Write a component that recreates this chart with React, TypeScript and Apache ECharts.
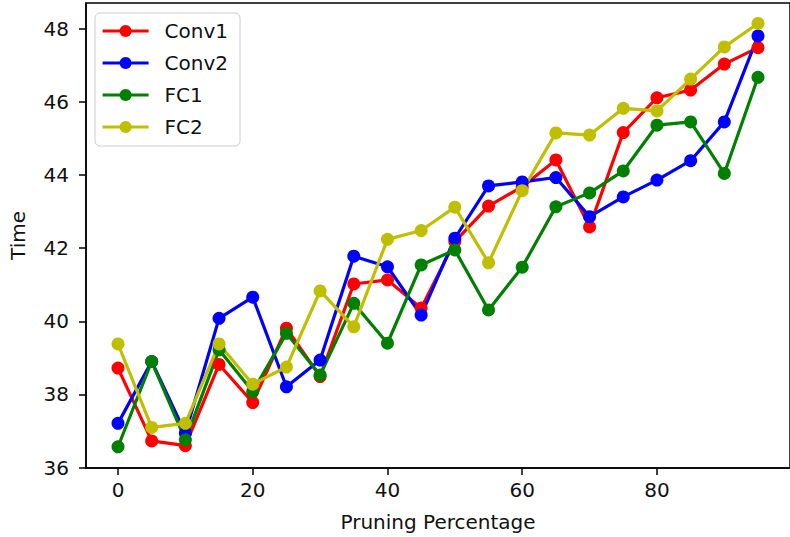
import React, { useEffect, useRef } from "react";
import * as echarts from "echarts";

const pruning = [0, 5, 10, 15, 20, 25, 30, 35, 40, 45, 50, 55, 60, 65, 70, 75, 80, 85, 90, 95];
const conv1 = [38.72, 36.73, 36.6, 38.82, 37.78, 39.81, 38.49, 41.02, 41.13, 40.36, 42.18, 43.15, 43.68, 44.41, 42.58, 45.16, 46.11, 46.32, 47.03, 47.48];
const conv2 = [37.21, 38.9, 36.94, 40.08, 40.66, 38.21, 38.94, 41.78, 41.49, 40.17, 42.27, 43.7, 43.81, 43.93, 42.86, 43.4, 43.86, 44.39, 45.45, 47.8];
const fc1 = [36.57, 38.9, 36.76, 39.22, 38.08, 39.67, 38.53, 40.49, 39.4, 41.54, 41.95, 40.31, 41.48, 43.13, 43.51, 44.11, 45.36, 45.45, 44.04, 46.67];
const fc2 = [39.38, 37.1, 37.21, 39.38, 38.28, 38.75, 40.83, 39.85, 42.24, 42.48, 43.12, 41.6, 43.57, 45.15, 45.09, 45.82, 45.75, 46.62, 47.5, 48.14];
const xTicks = [0, 20, 40, 60, 80];
const yTicks = [36, 38, 40, 42, 44, 46, 48];

const seriesDefs = [
  { name: "Conv1", values: conv1, color: "#ff0000" },
  { name: "Conv2", values: conv2, color: "#0000ff" },
  { name: "FC1", values: fc1, color: "#008000" },
  { name: "FC2", values: fc2, color: "#bfbf00" },
];

const FONT = "DejaVu Sans";

export default function App() {
  const ref = useRef<HTMLDivElement>(null);
  useEffect(() => {
    if (!ref.current) return;
    const chart = echarts.init(ref.current, undefined, { renderer: "svg" });
    chart.setOption({
      animation: false,
      backgroundColor: "#ffffff",
      textStyle: { fontFamily: FONT },
      grid: {
        left: 84,
        top: 3,
        bottom: 69,
        right: -8.4,
        show: true,
        borderColor: "#000",
        borderWidth: 1.5,
        backgroundColor: "transparent",
      },
      legend: {
        orient: "vertical",
        left: 95,
        top: 13,
        padding: [8, 12, 9, 6],
        itemWidth: 46,
        itemHeight: 15,
        itemGap: 12,
        backgroundColor: "rgba(255,255,255,0.8)",
        borderColor: "#cccccc",
        borderWidth: 1,
        borderRadius: 5,
        lineStyle: { width: 3.2 },
        textStyle: {
          fontFamily: FONT,
          fontSize: 20,
          lineHeight: 20,
          color: "#111",
          padding: [0, 0, 0, 11],
        },
        data: seriesDefs.map((s) => s.name),
      },
      xAxis: {
        type: "value",
        min: -4.75,
        max: 99.75,
        name: "Pruning Percentage",
        nameLocation: "middle",
        nameGap: 44,
        nameTextStyle: { fontFamily: FONT, fontSize: 20, color: "#111" },
        splitLine: { show: false },
        axisLine: { show: true, onZero: false, lineStyle: { color: "#000", width: 1.5 } },
        axisTick: {
          show: true,
          length: 7,
          customValues: xTicks,
          lineStyle: { color: "#000", width: 1.5 },
        },
        axisLabel: {
          customValues: xTicks,
          margin: 12,
          fontFamily: FONT,
          fontSize: 20,
          color: "#111",
        },
      },
      yAxis: {
        type: "value",
        min: 35.99,
        max: 48.7,
        name: "Time",
        nameLocation: "middle",
        nameGap: 58,
        nameTextStyle: { fontFamily: FONT, fontSize: 20, color: "#111" },
        splitLine: { show: false },
        axisLine: { show: true, onZero: false, lineStyle: { color: "#000", width: 1.5 } },
        axisTick: {
          show: true,
          length: 7,
          customValues: yTicks,
          lineStyle: { color: "#000", width: 1.5 },
        },
        axisLabel: {
          customValues: yTicks,
          margin: 17,
          fontFamily: FONT,
          fontSize: 20,
          color: "#111",
        },
      },
      series: seriesDefs.map((s) => ({
        name: s.name,
        type: "line",
        data: pruning.map((x, i) => [x, s.values[i]]),
        symbol: "circle",
        symbolSize: 13,
        showSymbol: true,
        lineStyle: { color: s.color, width: 3.2 },
        itemStyle: { color: s.color, borderWidth: 0 },
        emphasis: { disabled: true },
      })),
    });
    return () => chart.dispose();
  }, []);
  return (
    <div
      ref={ref}
      style={{ position: "absolute", left: 0, top: 0, width: 790, height: 537 }}
    />
  );
}
